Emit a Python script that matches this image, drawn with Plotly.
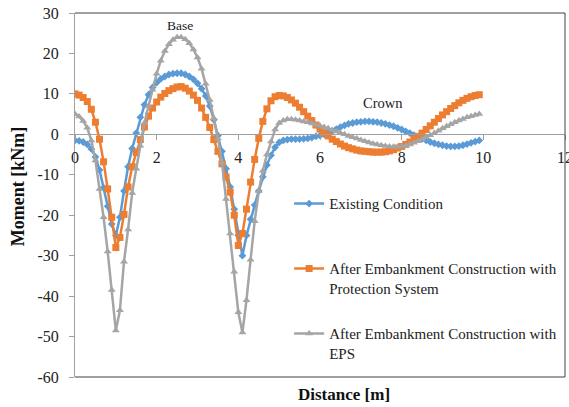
import plotly.graph_objects as go

distance = [0.0, 0.1, 0.2, 0.3, 0.4, 0.5, 0.6, 0.7, 0.8, 0.9,
            1.0, 1.1, 1.2, 1.3, 1.4, 1.5, 1.6, 1.7, 1.8, 1.9,
            2.0, 2.1, 2.2, 2.3, 2.4, 2.5, 2.6, 2.7, 2.8, 2.9,
            3.0, 3.1, 3.2, 3.3, 3.4, 3.5, 3.6, 3.7, 3.8, 3.9,
            4.0, 4.1, 4.2, 4.3, 4.4, 4.5, 4.6, 4.7, 4.8, 4.9,
            5.0, 5.1, 5.2, 5.3, 5.4, 5.5, 5.6, 5.7, 5.8, 5.9,
            6.0, 6.1, 6.2, 6.3, 6.4, 6.5, 6.6, 6.7, 6.8, 6.9,
            7.0, 7.1, 7.2, 7.3, 7.4, 7.5, 7.6, 7.7, 7.8, 7.9,
            8.0, 8.1, 8.2, 8.3, 8.4, 8.5, 8.6, 8.7, 8.8, 8.9,
            9.0, 9.1, 9.2, 9.3, 9.4, 9.5, 9.6, 9.7, 9.8, 9.9]

existing = [-1.5, -1.6, -1.9, -2.5, -3.6, -5.6, -8.8, -13.2, -17.8, -22.2,
            -25.0, -20.5, -14.0, -8.0, -3.5, 0.3, 4.2, 7.3, 9.8, 11.6,
            12.8, 13.7, 14.3, 14.8, 15.0, 15.1, 15.1, 14.8, 14.3, 13.6,
            12.6, 11.3, 9.5, 7.0, 3.6, -0.3, -4.2, -8.5, -13.0, -18.5,
            -25.0, -30.0, -25.0, -21.0, -17.5, -14.0, -10.5, -7.6, -5.2, -3.2,
            -2.0, -1.5, -1.3, -1.2, -1.2, -1.2, -1.1, -1.0, -0.8, -0.5,
            -0.3, 0.0, 0.4, 0.8, 1.3, 1.8, 2.2, 2.6, 2.8, 3.0,
            3.1, 3.2, 3.2, 3.1, 3.0, 2.8, 2.6, 2.3, 2.0, 1.6,
            1.2, 0.7, 0.3, -0.2, -0.6, -1.1, -1.5, -1.9, -2.2, -2.5,
            -2.7, -2.9, -3.0, -3.0, -2.9, -2.7, -2.4, -2.1, -1.8, -1.5]

protection = [10.0, 9.7, 9.1, 8.1, 6.2, 3.0, -1.2, -6.8, -13.5, -20.5,
              -28.0, -25.5, -19.8, -13.0, -8.0, -4.5, -1.3, 1.8, 4.5, 6.5,
              8.0, 9.2, 10.1, 10.8, 11.3, 11.7, 11.8, 11.4, 10.7, 9.7,
              8.4, 6.5, 4.2, 1.7, -1.3, -4.2, -7.3, -10.6, -14.3, -20.0,
              -27.5, -24.5, -18.5, -11.8, -6.2, -1.0, 3.2, 6.3, 8.3, 9.3,
              9.6, 9.5, 9.1, 8.5, 7.7, 6.7, 5.6, 4.5, 3.4, 2.3,
              1.3, 0.4, -0.4, -1.2, -1.8, -2.4, -2.9, -3.3, -3.6, -3.9,
              -4.1, -4.2, -4.3, -4.4, -4.4, -4.4, -4.3, -4.1, -3.8, -3.4,
              -3.0, -2.5, -1.9, -1.2, -0.5, 0.3, 1.2, 2.1, 3.0, 3.9,
              4.8, 5.6, 6.4, 7.1, 7.8, 8.4, 8.9, 9.3, 9.6, 9.8]

eps = [5.0, 4.4, 3.3, 1.6, -1.5, -6.5, -13.5, -20.5, -29.0, -38.5,
       -48.5, -43.5, -31.5, -23.5, -14.5, -8.5, -2.8, 2.8, 7.0, 11.0,
       15.0, 18.2, 20.6, 22.3, 23.4, 24.0, 24.0, 23.5, 22.5, 21.0,
       19.0, 16.2, 12.5, 8.5, 4.0, -1.0, -7.0, -16.0, -24.5, -34.0,
       -44.0, -49.0, -41.0, -31.0, -21.5, -14.0, -9.0, -5.0, -1.8, 1.2,
       2.8, 3.4, 3.7, 3.7, 3.6, 3.4, 3.2, 3.0, 2.7, 2.4,
       2.1, 1.8, 1.5, 1.1, 0.7, 0.3, 0.0, -0.4, -0.7, -1.0,
       -1.4, -1.7, -2.0, -2.3, -2.5, -2.7, -2.9, -3.0, -3.1, -3.1,
       -3.0, -2.8, -2.5, -2.1, -1.7, -1.2, -0.7, -0.2, 0.3, 0.9,
       1.5, 2.0, 2.5, 3.0, 3.4, 3.8, 4.2, 4.5, 4.8, 5.0]

series_names = ["Existing Condition<br> ",
                "After Embankment Construction with<br>Protection System",
                "After Embankment Construction with<br>EPS"]

y_tick_values = [30, 20, 10, 0, -10, -20, -30, -40, -50, -60]
y_tick_labels = ["30", "20", "10", "0", "-10", "-20", "-30", "-40", "-50", "-60"]
x_tick_values = [0, 2, 4, 6, 8, 10, 12]
x_tick_labels = ["0", "2", "4", "6", "8", "10", "12"]

FONT = "Liberation Serif, Times New Roman, serif"
BLUE, ORANGE, GRAY = "#5B9BD5", "#ED7D31", "#A5A5A5"

fig = go.Figure()
fig.add_trace(go.Scatter(x=distance, y=existing, name=series_names[0], mode="lines+markers",
                         line=dict(color=BLUE, width=2.5),
                         marker=dict(symbol="diamond", size=6, color=BLUE),
                         legendgroup="a"))
fig.add_trace(go.Scatter(x=distance, y=protection, name=series_names[1], mode="lines+markers",
                         line=dict(color=ORANGE, width=2.5),
                         marker=dict(symbol="square", size=7, color=ORANGE),
                         legendgroup="b"))
fig.add_trace(go.Scatter(x=distance, y=eps, name=series_names[2], mode="lines+markers",
                         line=dict(color=GRAY, width=2.5),
                         marker=dict(symbol="triangle-up", size=7, color=GRAY),
                         legendgroup="c"))

fig.update_layout(
    width=569, height=407,
    margin=dict(l=75, r=4, t=13, b=30, autoexpand=False),
    paper_bgcolor="white", plot_bgcolor="white",
    font=dict(family=FONT, size=15, color="#222222"),
    showlegend=True,
    legend=dict(x=0.437, y=0.521, xanchor="left", yanchor="top",
                bgcolor="rgba(0,0,0,0)", font=dict(family=FONT, size=15, color="#222222"),
                tracegroupgap=23, valign="top", itemwidth=30),
    xaxis=dict(range=[0, 12], tickmode="array", tickvals=x_tick_values, ticktext=x_tick_labels,
               showgrid=False, zeroline=False,
               showline=True, linecolor="#A0A0A0", linewidth=1,
               ticks="outside", ticklen=5, tickcolor="#A0A0A0",
               anchor="free", position=60/90, ticklabelstandoff=3,
               ticklabeloverflow="allow", automargin=False,
               tickfont=dict(family=FONT, size=16, color="#222222")),
    yaxis=dict(range=[-60, 30], tickmode="array", tickvals=y_tick_values, ticktext=y_tick_labels,
               showgrid=False, zeroline=False,
               showline=True, linecolor="#A0A0A0", linewidth=1,
               ticks="outside", ticklen=5, tickcolor="#A0A0A0",
               ticklabelstandoff=7, ticklabeloverflow="allow", automargin=False,
               tickfont=dict(family=FONT, size=16, color="#222222")),
    shapes=[
        dict(type="line", xref="paper", yref="paper", x0=0, x1=1, y0=1, y1=1,
             line=dict(color="#404040", width=1)),
        dict(type="line", xref="paper", yref="paper", x0=1, x1=1, y0=0, y1=1,
             line=dict(color="#404040", width=1)),
        dict(type="line", xref="paper", yref="paper", x0=0, x1=1, y0=0, y1=0,
             line=dict(color="#404040", width=1)),
    ],
    annotations=[
        dict(text="Base", x=2.57, y=26.9, xref="x", yref="y", showarrow=False,
             font=dict(family=FONT, size=13.5, color="#222222")),
        dict(text="Crown", x=7.54, y=7.8, xref="x", yref="y", showarrow=False,
             font=dict(family=FONT, size=14.5, color="#222222")),
        dict(text="<b>Moment [kNm]</b>", x=-0.116, y=0.522, xref="paper", yref="paper",
             showarrow=False, textangle=-90, xanchor="center", yanchor="middle",
             font=dict(family=FONT, size=18, color="#111111")),
        dict(text="<b>Distance [m]</b>", x=0.549, y=-0.049, xref="paper", yref="paper",
             showarrow=False, xanchor="center", yanchor="middle",
             font=dict(family=FONT, size=17, color="#111111")),
    ],
)

fig.write_html("out.html", config={"displayModeBar": False},
               post_script="document.body.style.margin='0';document.body.style.overflow='hidden';")
